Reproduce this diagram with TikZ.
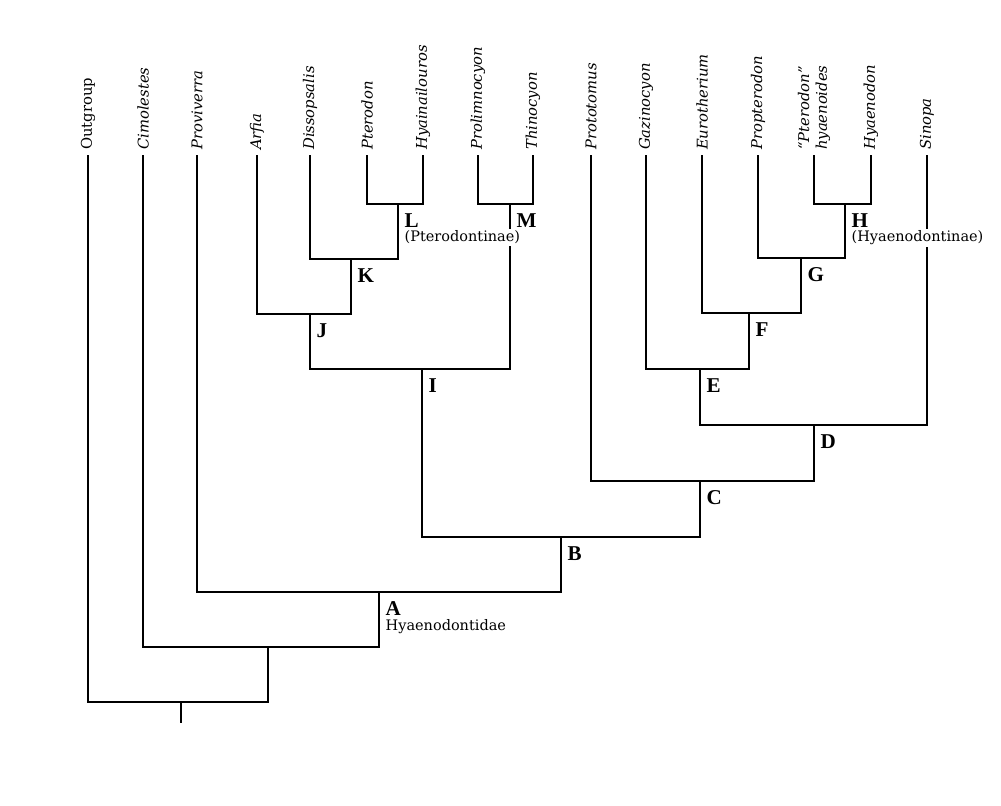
\documentclass[tikz,border=0pt]{standalone}
\usepackage{fontspec}
\setmainfont{DejaVu Serif}
\newfontfamily\cladefont{Liberation Serif}

\tikzset{
  taxon/.style={rotate=90, anchor=west, inner sep=3.5pt, font=\fontsize{10.5}{12.5}\selectfont},
  clade/.style={anchor=north west, inner sep=1pt, font=\cladefont\bfseries\fontsize{15}{17}\selectfont},
  subclade/.style={anchor=north west, inner sep=1pt, fill=white, font=\fontsize{10.3}{12}\selectfont},
  branch/.style={line width=0.9pt}
}

\begin{document}
\begin{tikzpicture}[x=0.025cm, y=-0.025cm]
  \useasboundingbox (0,0) rectangle (1001,805);

  % taxa along the top
  \foreach \n/\x/\t in {out/88/Outgroup, cimo/143/\textit{Cimolestes}, prov/197/\textit{Proviverra},
      arfi/257/\textit{Arfia}, diss/310/\textit{Dissopsalis}, pter/367/\textit{Pterodon},
      hyai/423/\textit{Hyainailouros}, prol/478/\textit{Prolimnocyon}, thin/533/\textit{Thinocyon},
      prot/591/\textit{Prototomus}, gazi/646/\textit{Gazinocyon}, euro/702/\textit{Eurotherium},
      prop/758/\textit{Propterodon}, hyae/871/\textit{Hyaenodon}, sino/927/\textit{Sinopa}} {
      \node[taxon] (\n) at (\x,155) {\t};
  }
  \node[taxon, align=left] (phya) at (814,155) {\textit{“Pterodon”}\\\textit{hyaenoides}};

  % clade junctions
  \coordinate (L) at (398,204);
  \coordinate (M) at (510,204);
  \coordinate (H) at (845,204);
  \coordinate (K) at (351,259);
  \coordinate (G) at (801,258);
  \coordinate (J) at (310,314);
  \coordinate (F) at (749,313);
  \coordinate (I) at (422,369);
  \coordinate (E) at (700,369);
  \coordinate (D) at (814,425);
  \coordinate (C) at (700,481);
  \coordinate (B) at (561,537);
  \coordinate (A) at (379,592);
  \coordinate (R1) at (268,647);
  \coordinate (R0) at (181,702);
  \coordinate (stub) at (181,723);

  \draw[branch] (pter.west) |- (L) -| (hyai.west);
  \draw[branch] (prol.west) |- (M) -| (thin.west);
  \draw[branch] (phya.west) |- (H) -| (hyae.west);
  \draw[branch] (diss.west) |- (K) -| (L);
  \draw[branch] (prop.west) |- (G) -| (H);
  \draw[branch] (arfi.west) |- (J) -| (K);
  \draw[branch] (euro.west) |- (F) -| (G);
  \draw[branch] (J) |- (I) -| (M);
  \draw[branch] (gazi.west) |- (E) -| (F);
  \draw[branch] (E) |- (D) -| (sino.west);
  \draw[branch] (prot.west) |- (C) -| (D);
  \draw[branch] (I) |- (B) -| (C);
  \draw[branch] (prov.west) |- (A) -| (B);
  \draw[branch] (cimo.west) |- (R1) -| (A);
  \draw[branch] (out.west) |- (R0) -| (R1);
  \draw[branch] (R0) -- (stub);

  % clade letters
  \foreach \c in {A,B,C,D,E,F,G,H,I,J,K,L,M} {
      \node[clade] (t\c) at ([shift={(5,8)}]\c) {\c};
  }
  \node[subclade] (tPtero) at (tL.south west) {(Pterodontinae)};
  \node[subclade] (tHyaen) at (tH.south west) {(Hyaenodontinae)};
  \node[subclade, fill=none] (tFamily) at (tA.south west) {Hyaenodontidae};
\end{tikzpicture}
\end{document}
